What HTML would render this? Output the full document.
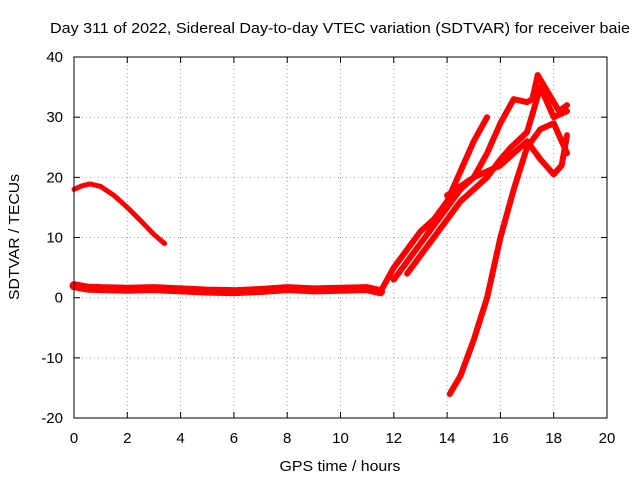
<!DOCTYPE html>
<html><head><meta charset="utf-8"><style>
body{margin:0;background:#fff}
svg{display:block;font-family:"Liberation Sans",sans-serif;font-size:15px}
</style></head><body>
<svg id="c" width="640" height="480">
<text x="340" y="33" text-anchor="middle" textLength="580" lengthAdjust="spacingAndGlyphs">Day 311 of 2022, Sidereal Day-to-day VTEC variation (SDTVAR) for receiver baie</text>
<text x="340" y="471" text-anchor="middle" textLength="121" lengthAdjust="spacingAndGlyphs">GPS time / hours</text>
<text transform="translate(19,237) rotate(-90)" text-anchor="middle" textLength="126" lengthAdjust="spacingAndGlyphs">SDTVAR / TECUs</text>
<g id="grid"></g><g id="series"></g>
<rect x="74" y="57" width="533" height="361" fill="none" stroke="#000"/>
</svg>
<script>
const xTicks=[0,2,4,6,8,10,12,14,16,18,20];
const yTicks=[-20,-10,0,10,20,30,40];
const arcT=[0,0.3,0.6,1,1.5,2,2.5,3,3.4];
const arcV=[18,18.6,18.9,18.5,17,15,12.8,10.5,9];
const baseT=[0,0.5,1,2,3,4,5,6,7,8,9,10,11,11.5];
const baseV=[2,1.6,1.5,1.4,1.5,1.3,1.1,1,1.2,1.5,1.3,1.4,1.5,1];
const aT=[11.5,12,12.5,13,13.5,14,14.5,15,15.5];
const aV=[1,5,8,11,13,16,21,26,30];
const bT=[12,12.5,13,13.5,14,14.5,15,15.5,16,16.5,17,17.2,17.4,17.8,18.2,18.5];
const bV=[3,6,9,12,15,18,20,24,29,33,32.5,33,37,34,31,32];
const cT=[12.5,13,13.5,14,14.5,15,15.5,16,16.4,17,17.5,18,18.5];
const cV=[4,7,10,13,16,18,20,23,25,27.5,35,30,31];
const dT=[14,14.5,15,15.5,16,16.5,17,17.5,18,18.3,18.5];
const dV=[17,18.5,20,21,22,24,26,23,20.5,22,27];
const eT=[14.1,14.5,15,15.5,16,16.5,17,17.5,18,18.3,18.5];
const eV=[-16,-13,-7,0,10,18,25,28,29,26,24];
const X=t=>74+t*533/20, Y=v=>297.7-v*361/60;
const ns="http://www.w3.org/2000/svg";
const g=document.getElementById('grid'), s=document.getElementById('series');
function el(p,tag,a){const e=document.createElementNS(ns,tag);for(const k in a)e.setAttribute(k,a[k]);p.appendChild(e);return e;}
xTicks.forEach(t=>{
 const l=el(g,'line',{x1:X(t),x2:X(t),y1:57,y2:418,stroke:'#a0a0a0','stroke-dasharray':'1,3'});
 
 
 el(g,'line',{x1:X(t),x2:X(t),y1:418,y2:412,stroke:'#000'});
 el(g,'line',{x1:X(t),x2:X(t),y1:57,y2:63,stroke:'#000'});
 const tx=el(g,'text',{x:X(t),y:443,'text-anchor':'middle'});tx.textContent=t;
 
 
});
yTicks.forEach(v=>{
 const l=el(g,'line',{x1:74,x2:607,y1:Y(v),y2:Y(v),stroke:'#a0a0a0','stroke-dasharray':'1,3'});
 
 
 el(g,'line',{x1:74,x2:80,y1:Y(v),y2:Y(v),stroke:'#000'});
 el(g,'line',{x1:601,x2:607,y1:Y(v),y2:Y(v),stroke:'#000'});
 const tx=el(g,'text',{x:63,y:Y(v)+5,'text-anchor':'end'});tx.textContent=v;
 
 
});
function series(T,V,w,name){
 const p=el(s,'polyline',{points:T.map((t,i)=>X(t)+','+Y(V[i])).join(' '),fill:'none',stroke:'#ff0000','stroke-width':w,'stroke-linejoin':'round','stroke-linecap':'round'});
 
 
}
series(arcT,arcV,5,'series-arc');
series(baseT,baseV,9,'series-baseline');
series(aT,aV,6,'series-a');
series(bT,bV,6,'series-b');
series(cT,cV,6,'series-c');
series(dT,dV,6,'series-d');
series(eT,eV,6,'series-e');
</script>
</body></html>
